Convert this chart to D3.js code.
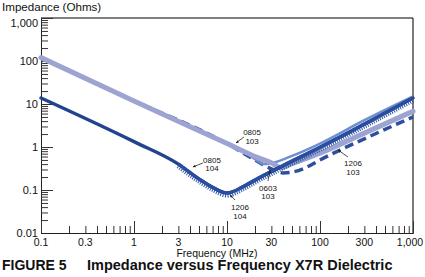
<!DOCTYPE html>
<html>
<head>
<meta charset="utf-8">
<script src="https://cdn.jsdelivr.net/npm/d3@7"></script>
<style>
    body { margin: 0; background: #fff; }
    svg { display: block; font-family: "Liberation Sans", Arial, sans-serif; }
</style>
</head>
<body>
<div class="chart"></div>
<script>
// ==================================
// data (MHz, Ohms)

var yTicks = [1000, 100, 10, 1, 0.1, 0.01];
var yTickLabels = ["1,000", "100", "10", "1", "0.1", "0.01"];
var xTicks = [0.1, 0.3, 1, 3, 10, 30, 100, 300, 1000];
var xTickLabels = ["0.1", "0.3", "1", "3", "10", "30", "100", "300", "1,000"];

var freq0805_103 = [0.1, 1, 10, 20, 30, 38, 50, 100, 300, 1000];
var ohms0805_103 = [120, 11.8, 1.2, 0.6, 0.43, 0.33, 0.41, 0.72, 2.1, 6.8];

var freq1206_103 = [0.1, 1, 10, 20, 30, 40, 50, 70, 100, 300, 1000];
var ohms1206_103 = [120, 11.8, 1.2, 0.5, 0.31, 0.25, 0.26, 0.33, 0.5, 1.55, 5.0];

var freq0603_103 = [0.1, 1, 10, 15, 20, 25, 30, 50, 100, 300, 1000];
var ohms0603_103 = [120, 11.8, 1.2, 0.8, 0.52, 0.4, 0.42, 0.62, 1.2, 4.2, 15];

var freq0805_104 = [0.1, 1, 3, 5, 7, 10, 15, 20, 40, 100, 300, 1000];
var ohms0805_104 = [13.8, 1.33, 0.4, 0.18, 0.115, 0.085, 0.12, 0.17, 0.37, 0.98, 3.4, 13.8];

var freq1206_104 = [3, 5, 7, 10, 15, 20, 40, 100, 300, 1000];
var ohms1206_104 = [0.4, 0.18, 0.115, 0.085, 0.12, 0.17, 0.37, 0.98, 3.4, 13.8];

// callout text (first-line baseline at f, z) and leader arrows
var callouts = [
    { top: "0805", bottom: "103", f: 18.6, z: 1.9 },
    { top: "0805", bottom: "104", f: 6.9, z: 0.425 },
    { top: "1206", bottom: "104", f: 13.8, z: 0.034 },
    { top: "0603", bottom: "103", f: 27.6, z: 0.095 },
    { top: "1206", bottom: "103", f: 226, z: 0.36 }
];
var arrows = [
    { f1: 15.2, z1: 1.71, f2: 12.5, z2: 1.24 },
    { f1: 5.5, z1: 0.425, f2: 4.3, z2: 0.343 },
    { f1: 12.2, z1: 0.0585, f2: 10.8, z2: 0.0766 },
    { f1: 27.6, z1: 0.162, f2: 29, z2: 0.292 },
    { f1: 200, z1: 0.585, f2: 156, z2: 0.85 }
];

// ==================================

var w = 425;
var h = 277;

var svg = d3.select(".chart")
    .append("svg")
    .attr("width", w)
    .attr("height", h);

var x = d3.scaleLog().domain([0.1, 1000]).range([41, 413]);
var y = d3.scaleLog().domain([0.01, 1000]).range([233, 18]);

var minorValues = function(lo, hi) {
    var out = [];
    for (var d = lo; d < hi; d *= 10) {
        for (var k = 2; k <= 9; k++) {
            out.push(d * k);
        }
    }
    return out;
};

// frame: top and right
svg.append("line")
    .attr("x1", 41).attr("x2", 413)
    .attr("y1", 18).attr("y2", 18)
    .attr("stroke", "#555").attr("stroke-width", 1.5);
svg.append("line")
    .attr("x1", 413).attr("x2", 413)
    .attr("y1", 18).attr("y2", 233)
    .attr("stroke", "#222").attr("stroke-width", 1.2);

// y axis, ticks pointing inward
var yAxis = d3.axisRight(y)
    .tickValues(yTicks.concat(minorValues(0.01, 1000)))
    .tickSize(7)
    .tickFormat("");
var gy = svg.append("g")
    .attr("transform", "translate(41,0)")
    .call(yAxis);
gy.select(".domain").attr("stroke", "#222");
gy.selectAll(".tick line")
    .attr("stroke", "#333")
    .attr("x2", function(d) { return yTicks.indexOf(d) >= 0 ? 12 : 7; });

svg.selectAll(".ylabel")
    .data(yTicks)
    .enter()
    .append("text")
    .attr("class", "ylabel")
    .attr("x", 38)
    .attr("y", function(d) { return d === 1000 ? y(d) + 9 : y(d) + 3.5; })
    .attr("text-anchor", "end")
    .attr("font-size", 11)
    .attr("fill", "#111")
    .text(function(d, i) { return yTickLabels[i]; });

// x axis, ticks pointing up
var majorX = [0.1, 1, 10, 100, 1000];
var xAxis = d3.axisTop(x)
    .tickValues(majorX.concat(minorValues(0.1, 1000)))
    .tickSize(7)
    .tickFormat("");
var gx = svg.append("g")
    .attr("transform", "translate(0,233)")
    .call(xAxis);
gx.select(".domain").attr("stroke", "#222");
gx.selectAll(".tick line")
    .attr("stroke", "#333")
    .attr("y2", function(d) { return majorX.indexOf(d) >= 0 ? -12 : -7; });

svg.selectAll(".xlabel")
    .data(xTicks)
    .enter()
    .append("text")
    .attr("class", "xlabel")
    .attr("x", function(d) { return d === 1000 ? x(d) - 3 : x(d); })
    .attr("y", 245.5)
    .attr("text-anchor", "middle")
    .attr("font-size", 10.5)
    .attr("fill", "#111")
    .text(function(d, i) { return xTickLabels[i]; });

// ==================================
// curves

var line = d3.line()
    .x(function(d) { return x(d[0]); })
    .y(function(d) { return y(d[1]); })
    .curve(d3.curveMonotoneX);

var pairs = function(fs, zs) {
    return fs.map(function(f, i) { return [f, zs[i]]; });
};

var plot = svg.append("g");

plot.append("path")
    .datum(pairs(freq1206_103, ohms1206_103))
    .attr("d", line)
    .attr("fill", "none")
    .attr("stroke", "#2d4f9e")
    .attr("stroke-width", 3.5)
    .attr("stroke-dasharray", "9,5");

plot.append("path")
    .datum(pairs(freq0603_103, ohms0603_103))
    .attr("d", line)
    .attr("fill", "none")
    .attr("stroke", "#6f8fd0")
    .attr("stroke-width", 2.5);

plot.append("path")
    .datum(pairs(freq0805_103, ohms0805_103))
    .attr("d", line)
    .attr("fill", "none")
    .attr("stroke", "#9ea4d2")
    .attr("stroke-width", 5)
    .attr("stroke-linecap", "round");

plot.append("path")
    .datum(pairs(freq0805_104, ohms0805_104))
    .attr("d", line)
    .attr("fill", "none")
    .attr("stroke", "#22438e")
    .attr("stroke-width", 3.5)
    .attr("stroke-linecap", "round");

// 1206 104: comb-like line
var comb = pairs(freq1206_104, ohms1206_104);
plot.append("path")
    .datum(comb)
    .attr("d", line)
    .attr("transform", "translate(0,1.5)")
    .attr("fill", "none")
    .attr("stroke", "#2e56a8")
    .attr("stroke-width", 6)
    .attr("stroke-dasharray", "1,1.3");
plot.append("path")
    .datum(comb)
    .attr("d", line)
    .attr("fill", "none")
    .attr("stroke", "#2a4d9f")
    .attr("stroke-width", 3);

// ==================================
// callouts

var notes = svg.append("g")
    .attr("font-size", 8)
    .attr("fill", "#111")
    .attr("text-anchor", "middle");

callouts.forEach(function(c) {
    notes.append("text")
        .attr("x", x(c.f))
        .attr("y", y(c.z))
        .text(c.top);
    notes.append("text")
        .attr("x", x(c.f))
        .attr("y", y(c.z) + 8.5)
        .text(c.bottom);
});

arrows.forEach(function(a) {
    var x1 = x(a.f1), y1 = y(a.z1), x2 = x(a.f2), y2 = y(a.z2);
    notes.append("line")
        .attr("x1", x1).attr("y1", y1)
        .attr("x2", x2).attr("y2", y2)
        .attr("stroke", "#222").attr("stroke-width", 0.8);
    var ang = Math.atan2(y2 - y1, x2 - x1);
    var s = 3;
    notes.append("path")
        .attr("d", "M" + x2 + "," + y2 +
            "L" + (x2 - s * Math.cos(ang - 0.45)) + "," + (y2 - s * Math.sin(ang - 0.45)) +
            "L" + (x2 - s * Math.cos(ang + 0.45)) + "," + (y2 - s * Math.sin(ang + 0.45)) + "Z")
        .attr("fill", "#222");
});

// ==================================
// titles

svg.append("text")
    .attr("x", 2)
    .attr("y", 11)
    .attr("font-size", 11.6)
    .attr("fill", "#111")
    .text("Impedance (Ohms)");

svg.append("text")
    .attr("x", 217)
    .attr("y", 256.5)
    .attr("text-anchor", "middle")
    .attr("font-size", 10.5)
    .attr("fill", "#111")
    .text("Frequency (MHz)");

svg.append("text")
    .attr("x", 2)
    .attr("y", 270)
    .attr("font-size", 14)
    .attr("font-weight", "bold")
    .attr("fill", "#111")
    .text("FIGURE 5");

svg.append("text")
    .attr("x", 87)
    .attr("y", 270)
    .attr("font-size", 14.5)
    .attr("font-weight", "bold")
    .attr("fill", "#111")
    .text("Impedance versus Frequency X7R Dielectric");
</script>
</body>
</html>
